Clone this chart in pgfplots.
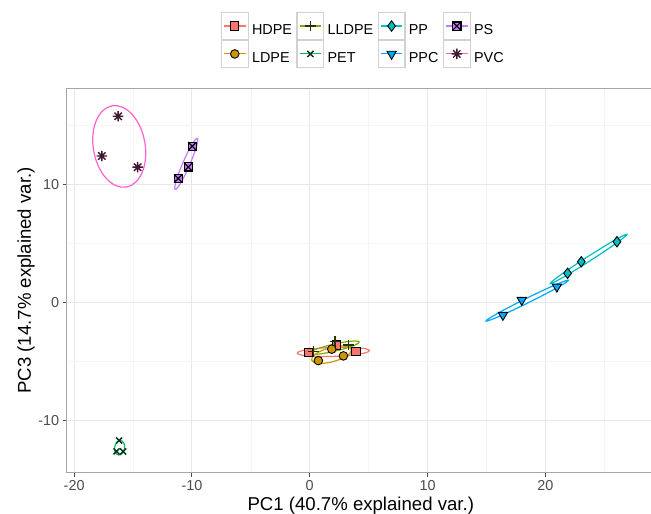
\documentclass[border=0pt]{standalone}
\usepackage{fontspec}
\setmainfont{Liberation Sans}
\usepackage{pgfplots}
\pgfplotsset{compat=1.18}

\definecolor{hdpe}{HTML}{F8766D}
\definecolor{ldpe}{HTML}{CD9600}
\definecolor{lldpe}{HTML}{7CAE00}
\definecolor{pet}{HTML}{00BE67}
\definecolor{pp}{HTML}{00BFC4}
\definecolor{ppc}{HTML}{00A9FF}
\definecolor{ps}{HTML}{C77CFF}
\definecolor{pvc}{HTML}{FF61CC}

% square with a cross (ggplot shape 7)
\pgfdeclareplotmark{boxx}{%
  \pgfpathrectangle{\pgfqpoint{-\pgfplotmarksize}{-\pgfplotmarksize}}{\pgfqpoint{2\pgfplotmarksize}{2\pgfplotmarksize}}%
  \pgfusepathqfillstroke
  \pgfpathmoveto{\pgfqpoint{-\pgfplotmarksize}{-\pgfplotmarksize}}%
  \pgfpathlineto{\pgfqpoint{\pgfplotmarksize}{\pgfplotmarksize}}%
  \pgfpathmoveto{\pgfqpoint{-\pgfplotmarksize}{\pgfplotmarksize}}%
  \pgfpathlineto{\pgfqpoint{\pgfplotmarksize}{-\pgfplotmarksize}}%
  \pgfusepathqstroke}
% eight-armed asterisk (ggplot shape 8)
\pgfdeclareplotmark{star8}{%
  \pgfpathmoveto{\pgfqpoint{-\pgfplotmarksize}{0pt}}\pgfpathlineto{\pgfqpoint{\pgfplotmarksize}{0pt}}%
  \pgfpathmoveto{\pgfqpoint{0pt}{-\pgfplotmarksize}}\pgfpathlineto{\pgfqpoint{0pt}{\pgfplotmarksize}}%
  \pgfpathmoveto{\pgfqpoint{-.707\pgfplotmarksize}{-.707\pgfplotmarksize}}\pgfpathlineto{\pgfqpoint{.707\pgfplotmarksize}{.707\pgfplotmarksize}}%
  \pgfpathmoveto{\pgfqpoint{-.707\pgfplotmarksize}{.707\pgfplotmarksize}}\pgfpathlineto{\pgfqpoint{.707\pgfplotmarksize}{-.707\pgfplotmarksize}}%
  \pgfusepathqstroke}

\begin{document}
\begin{tikzpicture}
\useasboundingbox (-66.7bp,-41.3bp) rectangle (584.3bp,472.7bp);
\begin{axis}[
  x=11.78bp, y=11.78bp,
  xmin=-20.63, xmax=29.3, ymin=-14.465, ymax=18.166,
  axis line style={black!35, line width=1bp},
  xtick={-20,-10,0,10,20}, ytick={-10,0,10},
  minor xtick={-15,-5,5,15,25}, minor ytick={-5,5,15},
  grid=both,
  major grid style={black!9, line width=0.9bp},
  minor grid style={black!4, line width=0.6bp},
  tick pos=left, tick align=outside,
  major tick length=4bp, minor tick length=0pt,
  every tick/.style={black!70, line width=0.9bp},
  ticklabel style={font=\fontsize{14.4bp}{16bp}\selectfont, text=black!70},
  /pgf/number format/assume math mode=true,
  xlabel={PC1 (40.7\% explained var.)},
  ylabel={PC3 (14.7\% explained var.)},
  label style={font=\fontsize{18.6bp}{20bp}\selectfont},
  xlabel style={at={(axis description cs:0.5,-0.0855)}, anchor=center},
  ylabel style={at={(axis description cs:-0.0692,0.5)}, anchor=center},
  legend style={
    at={(axis description cs:0.5053,1.1257)}, anchor=center,
    draw=none, fill=none, inner sep=0pt,
    legend columns=4, row sep=0pt,
    font=\fontsize{14.4bp}{16bp}\selectfont,
    nodes={inner xsep=3.3bp, inner ysep=0pt},
    /tikz/every even column/.append style={column sep=1.1bp},
  },
  legend cell align=left,
  legend image code/.code={
    \draw[black!18, line width=1.2bp, fill=white] (0bp,-9bp) rectangle (26.7bp,17.7bp);
    \draw[mark repeat=2, mark phase=2, line width=1.1bp, #1, sharp plot]
      plot coordinates {(2.5bp,4.35bp) (13.35bp,4.35bp) (24.2bp,4.35bp)};
  },
]
% row 1 of the legend: HDPE, LLDPE, PP, PS
\addplot[color=hdpe, only marks, mark=square*, mark size=4.1bp,
  mark options={draw=black, fill=hdpe, line width=0.9bp}]
  coordinates {(-0.12,-4.24) (3.93,-4.19) (2.29,-3.62)};
\addlegendentry{HDPE}
\addplot[color=lldpe, only marks, mark=+, mark size=5.4bp,
  mark options={draw=black!70!lldpe, line width=1.4bp}]
  coordinates {(0.31,-4.19) (2.15,-3.34) (3.28,-3.62)};
\addlegendentry{LLDPE}
\addplot[color=pp, only marks, mark=diamond*, mark size=5.2bp,
  mark options={draw=black, fill=pp, line width=0.9bp}]
  coordinates {(26.08,5.14) (23.05,3.44) (21.89,2.46)};
\addlegendentry{PP}
\addplot[color=ps, only marks, mark=boxx, mark size=4.1bp,
  mark options={draw=black, fill=ps, line width=1.2bp}]
  coordinates {(-11.16,10.51) (-10.31,11.49) (-9.97,13.25)};
\addlegendentry{PS}
% row 2 of the legend: LDPE, PET, PPC, PVC
\addplot[color=ldpe, only marks, mark=*, mark size=4.3bp,
  mark options={draw=black, fill=ldpe, line width=0.9bp}]
  coordinates {(0.73,-4.95) (1.87,-3.98) (2.86,-4.55)};
\addlegendentry{LDPE}
\addplot[color=pet, only marks, mark=x, mark size=4.3bp,
  mark options={draw=black!75!pet, line width=1.4bp}]
  coordinates {(-16.18,-11.73) (-16.4,-12.66) (-15.84,-12.66)};
\addlegendentry{PET}
\addplot[color=ppc, only marks, mark=triangle*, mark size=5.4bp,
  mark options={draw=black, fill=ppc, line width=0.9bp, rotate=180}]
  coordinates {(16.4,-1.08) (18.0,0.19) (20.98,1.32)};
\addlegendentry{PPC}
\addplot[color=pvc, only marks, mark=star8, mark size=5.2bp,
  mark options={draw=black!75!pvc, line width=1.4bp}]
  coordinates {(-16.26,15.79) (-17.65,12.42) (-14.61,11.47)};
\addlegendentry{PVC}

% normal-probability ellipses of the groups
\draw[hdpe, line width=1.2bp, rotate around={2:(axis cs:2.0,-4.21)}] (axis cs:2.0,-4.21) ellipse [x radius=3.06, y radius=0.38];
\draw[lldpe, line width=1.2bp, rotate around={13:(axis cs:2.05,-3.86)}] (axis cs:2.05,-3.86) ellipse [x radius=2.2, y radius=0.3];
\draw[ldpe, line width=1.2bp, rotate around={15:(axis cs:1.85,-4.45)}] (axis cs:1.85,-4.45) ellipse [x radius=1.75, y radius=0.6];
\draw[pp, line width=1.2bp, rotate around={32.7:(axis cs:23.67,3.68)}] (axis cs:23.67,3.68) ellipse [x radius=3.87, y radius=0.2];
\draw[ppc, line width=1.2bp, rotate around={26.3:(axis cs:18.46,0.14)}] (axis cs:18.46,0.14) ellipse [x radius=3.9, y radius=0.2];
\draw[ps, line width=1.2bp, rotate around={66.6:(axis cs:-10.48,11.75)}] (axis cs:-10.48,11.75) ellipse [x radius=2.36, y radius=0.3];
\draw[pvc, line width=1.2bp, rotate around={100:(axis cs:-16.17,13.23)}] (axis cs:-16.17,13.23) ellipse [x radius=3.5, y radius=2.2];
\draw[pet, line width=1.2bp, rotate around={80:(axis cs:-16.14,-12.35)}] (axis cs:-16.14,-12.35) ellipse [x radius=0.62, y radius=0.42];
\end{axis}
\end{tikzpicture}
\end{document}
